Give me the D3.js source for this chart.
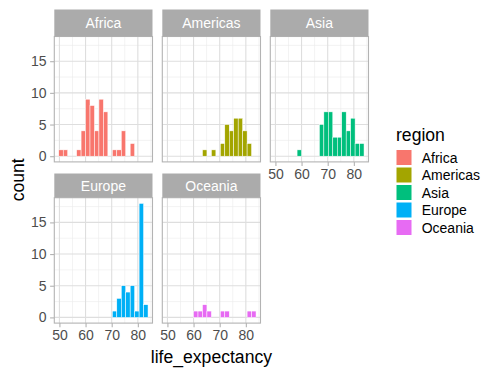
<!DOCTYPE html>
<html>
<head>
<meta charset="utf-8">
<script src="https://cdn.jsdelivr.net/npm/d3@7"></script>
<style>
  body { margin: 0; background: #fff; }
  svg { font-family: "Liberation Sans", Arial, Helvetica, sans-serif; }
</style>
</head>
<body>
<div id="chart"></div>
<script>
// facets / legend
const regions = ["Africa", "Americas", "Asia", "Europe", "Oceania"];
const colors = ["#F8766D", "#A3A500", "#00BF7D", "#00B0F6", "#E76BF3"];

// histogram bins: 20 bins
const binStart = 49.75;
const binWidth = 1.7075;

// counts per bin, one array per region
const africa   = [1, 1, 0, 0, 1, 4, 9, 8, 4, 9, 7, 0, 1, 1, 4, 0, 2, 0, 0, 0];
const americas = [0, 0, 0, 0, 0, 0, 0, 0, 1, 0, 1, 0, 2, 5, 4, 6, 6, 4, 2, 0];
const asia     = [0, 0, 0, 0, 0, 1, 0, 0, 0, 0, 5, 7, 7, 3, 3, 7, 4, 6, 2, 2];
const europe   = [0, 0, 0, 0, 0, 0, 0, 0, 0, 0, 0, 0, 1, 3, 5, 4, 5, 1, 18, 2];
const oceania  = [0, 0, 0, 0, 0, 0, 1, 1, 2, 1, 0, 0, 1, 1, 0, 0, 0, 0, 1, 1];
const counts = [africa, americas, asia, europe, oceania];

const xTicks = [50, 60, 70, 80];
const xMinor = [55, 65, 75, 85];
const yTicks = [0, 5, 10, 15];
const yMinor = [2.5, 7.5, 12.5, 17.5];

const W = 500, H = 375;
const panelW = 98.2, panelH = 125.4;
const colX = [54.3, 162.3, 270.3];
const stripTop = [9.5, 173.5];
const panelTop = [36.5, 197.7];

const svg = d3.select("#chart").append("svg")
    .attr("width", W)
    .attr("height", H);

const binEnd = binStart + binWidth * africa.length;
const pad = (binEnd - binStart) * 0.05;
const x = d3.scaleLinear()
    .domain([binStart - pad, binEnd + pad])
    .range([0, panelW]);

const yMax = d3.max(counts, c => d3.max(c));
const y = d3.scaleLinear()
    .domain([-yMax * 0.05, yMax * 1.05])
    .range([panelH, 0]);

regions.forEach((region, i) => {
  const col = i % 3, row = Math.floor(i / 3);
  const g = svg.append("g")
      .attr("transform", "translate(" + colX[col] + "," + panelTop[row] + ")");

  // strip
  svg.append("rect")
      .attr("x", colX[col])
      .attr("y", stripTop[row])
      .attr("width", panelW)
      .attr("height", panelTop[row] - stripTop[row])
      .attr("fill", "#ababab");
  svg.append("text")
      .attr("x", colX[col] + panelW / 2)
      .attr("y", (stripTop[row] + panelTop[row]) / 2)
      .attr("dy", "0.36em")
      .attr("text-anchor", "middle")
      .attr("fill", "white")
      .attr("font-size", 14)
      .text(region);

  // grid
  g.selectAll(".xminor").data(xMinor).enter().append("line")
      .attr("x1", d => x(d)).attr("x2", d => x(d))
      .attr("y1", 0).attr("y2", panelH)
      .attr("stroke", "#ebebeb").attr("stroke-width", 0.6);
  g.selectAll(".yminor").data(yMinor).enter().append("line")
      .attr("x1", 0).attr("x2", panelW)
      .attr("y1", d => y(d)).attr("y2", d => y(d))
      .attr("stroke", "#ebebeb").attr("stroke-width", 0.6);
  g.selectAll(".xmajor").data(xTicks).enter().append("line")
      .attr("x1", d => x(d)).attr("x2", d => x(d))
      .attr("y1", 0).attr("y2", panelH)
      .attr("stroke", "#dedede").attr("stroke-width", 1.1);
  g.selectAll(".ymajor").data(yTicks).enter().append("line")
      .attr("x1", 0).attr("x2", panelW)
      .attr("y1", d => y(d)).attr("y2", d => y(d))
      .attr("stroke", "#dedede").attr("stroke-width", 1.1);

  // bars
  g.selectAll(".bar").data(counts[i]).enter().append("rect")
      .attr("x", (d, j) => x(binStart + j * binWidth))
      .attr("width", x(binWidth) - x(0))
      .attr("y", d => y(d))
      .attr("height", d => y(0) - y(d))
      .attr("fill", colors[i])
      .attr("stroke", "white")
      .attr("stroke-width", 0.5);

  // border
  g.append("rect")
      .attr("width", panelW).attr("height", panelH)
      .attr("fill", "none")
      .attr("stroke", "#b3b3b3")
      .attr("stroke-width", 1.1);

  // y axis on first column
  if (col === 0) {
    const ya = g.append("g").call(d3.axisLeft(y).tickValues(yTicks).tickSize(4.2).tickPadding(3.5));
    ya.select(".domain").remove();
    ya.selectAll("line").attr("stroke", "#b3b3b3").attr("stroke-width", 1.1);
    ya.selectAll("text").attr("fill", "#4d4d4d").attr("font-size", 14)
        .attr("font-family", "Liberation Sans, Arial, sans-serif");
  }
  // x axis where nothing sits below
  if (row === 1 || i + 3 >= regions.length) {
    const xa = g.append("g")
        .attr("transform", "translate(0," + panelH + ")")
        .call(d3.axisBottom(x).tickValues(xTicks).tickSize(4.2).tickPadding(3));
    xa.select(".domain").remove();
    xa.selectAll("line").attr("stroke", "#b3b3b3").attr("stroke-width", 1.1);
    xa.selectAll("text").attr("fill", "#4d4d4d").attr("font-size", 14)
        .attr("font-family", "Liberation Sans, Arial, sans-serif");
  }
});

// axis titles
svg.append("text")
    .attr("x", colX[0] + (colX[2] + panelW - colX[0]) / 2)
    .attr("y", 363)
    .attr("text-anchor", "middle")
    .attr("font-size", 17.6)
    .text("life_expectancy");

svg.append("text")
    .attr("transform", "translate(23.5," + ((panelTop[0] + panelTop[1] + panelH) / 2) + ") rotate(-90)")
    .attr("text-anchor", "middle")
    .attr("font-size", 17.6)
    .text("count");

// legend
const legend = svg.append("g").attr("transform", "translate(396,0)");
legend.append("text")
    .attr("x", 0).attr("y", 141)
    .attr("font-size", 17.6)
    .text("region");
legend.selectAll(".key").data(regions).enter().append("rect")
    .attr("x", 0.5)
    .attr("y", (d, i) => 150 + i * 17.5)
    .attr("width", 15).attr("height", 15)
    .attr("fill", (d, i) => colors[i]);
legend.selectAll(".lab").data(regions).enter().append("text")
    .attr("x", 25.7)
    .attr("y", (d, i) => 157.5 + i * 17.5)
    .attr("dy", "0.36em")
    .attr("font-size", 14)
    .text(d => d);
</script>
</body>
</html>
